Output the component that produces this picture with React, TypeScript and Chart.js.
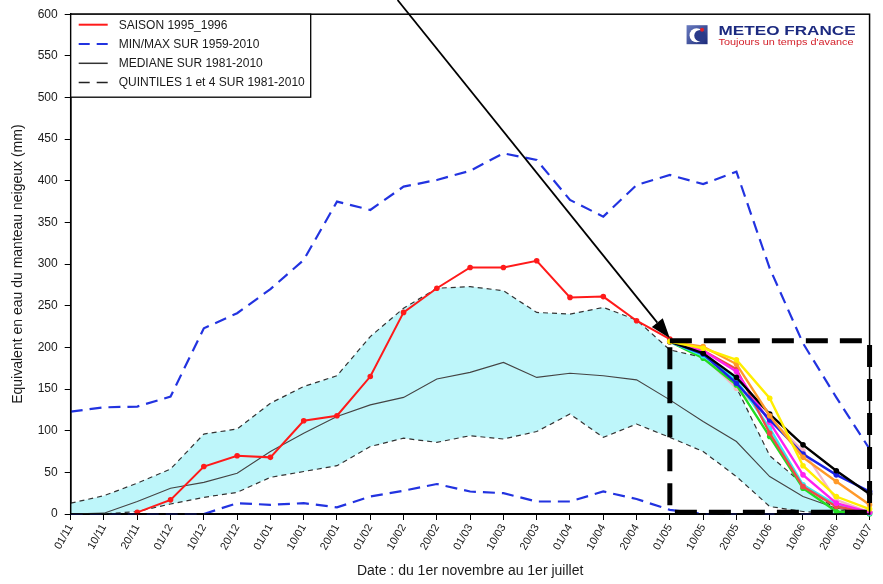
import React, { useEffect, useRef } from "react";
import { Chart, registerables } from "chart.js";

Chart.register(...registerables);

// Dates of the snow season, 1 November to 1 July
const dates = [
  "01/11", "10/11", "20/11", "01/12", "10/12", "20/12", "01/01", "10/01", "20/01",
  "01/02", "10/02", "20/02", "01/03", "10/03", "20/03", "01/04", "10/04", "20/04",
  "01/05", "10/05", "20/05", "01/06", "10/06", "20/06", "01/07",
];

// Snow water equivalent (mm)
const season = [null, null, 2, 17, 57, 70, 68, 112, 118, 165, 242, 271, 296, 296, 304, 260, 261, 232, 210];
const maxSeries = [123, 128, 129, 141, 223, 241, 270, 305, 375, 365, 393, 401, 412, 433, 425, 377, 357, 395, 407, 396, 411, 295, 205, 140, 78];
const minSeries = [0, 0, 0, 0, 0, 13, 11, 13, 8, 21, 28, 36, 27, 25, 15, 15, 27, 18, 5, 0, 0, 0, 0, 0, 0];
const medianSeries = [0, 1, 15, 31, 38, 49, 75, 97, 117, 131, 140, 162, 170, 182, 164, 169, 166, 161, 137, 111, 87, 45, 21, 7, 1];
const quintile4 = [13, 22, 37, 54, 96, 102, 133, 153, 166, 213, 247, 271, 273, 268, 242, 240, 248, 233, 197, 188, 152, 70, 36, 5, 0];
const quintile1 = [0, 0, 3, 12, 20, 26, 44, 51, 58, 81, 91, 86, 94, 90, 99, 120, 92, 108, 92, 75, 45, 9, 3, 0, 0];

// Scenario tails, 01/05 .. 01/07
const scenarioStart = "01/05";
const tailYellow = [207, 199, 185, 139, 58, 21, 6];
const tailOrange = [207, 201, 180, 118, 68, 39, 11];
const tailBlack = [207, 193, 164, 120, 83, 52, 24];
const tailBlue = [207, 192, 157, 113, 72, 47, 27];
const tailMagenta = [207, 196, 171, 110, 47, 13, 2];
const tailRed = [207, 196, 174, 97, 33, 9, 2];
const tailCyan = [207, 190, 161, 103, 35, 11, 1];
const tailGreen = [207, 187, 155, 93, 31, 3, 0];
const tailPink = [207, 189, 151, 115, 76, 17, 2];

// Highlighted window and arrow (category / value coordinates)
const boxFrom = "01/05";
const boxTo = "01/07";
const boxTop = 208;
const boxBottom = 2;
const arrowFrom = { index: 9.82, value: 617 };
const arrowTo = { index: 18, value: 211 };

const FONT = "'Liberation Sans', Arial, Helvetica, sans-serif";
const BLUE = "#2233e0";
const FILL = "rgb(190,246,250)";

function pad(tail: number[]): (number | null)[] {
  const s = dates.indexOf(scenarioStart);
  return dates.map((_, i) => {
    const k = i - s;
    return k >= 0 && k < tail.length ? tail[k] : null;
  });
}

const scenarios: [number[], string][] = [
  [tailYellow, "#ffee00"],
  [tailOrange, "#ff9a2a"],
  [tailBlack, "#000000"],
  [tailBlue, "#1a22e6"],
  [tailMagenta, "#ff22f0"],
  [tailRed, "#f04848"],
  [tailCyan, "#30eef0"],
  [tailGreen, "#22dd22"],
  [tailPink, "#f7b6c6"],
];

const legendEntries = [
  { label: "SAISON 1995_1996", color: "#ff1a1a", dash: [] as number[], width: 2 },
  { label: "MIN/MAX SUR 1959-2010", color: BLUE, dash: [11, 7], width: 2 },
  { label: "MEDIANE SUR 1981-2010", color: "#333333", dash: [] as number[], width: 1.5 },
  { label: "QUINTILES 1 et 4 SUR 1981-2010", color: "#222222", dash: [11, 7], width: 1.5 },
];

const overlay = {
  id: "overlay",
  afterDatasetsDraw(chart: any) {
    const { ctx, chartArea: a, scales } = chart;
    const x = scales.x;
    const y = scales.y;
    ctx.save();

    // plot frame
    ctx.setLineDash([]);
    ctx.strokeStyle = "#000";
    ctx.lineWidth = 1.5;
    ctx.strokeRect(a.left, a.top, a.right - a.left, a.bottom - a.top);

    // dashed window
    const bx0 = x.getPixelForValue(dates.indexOf(boxFrom));
    const bx1 = x.getPixelForValue(dates.indexOf(boxTo));
    const by0 = y.getPixelForValue(boxTop);
    const by1 = y.getPixelForValue(boxBottom);
    ctx.setLineDash([22, 12]);
    ctx.lineWidth = 5;
    ctx.strokeStyle = "#000";
    ctx.beginPath();
    ctx.moveTo(bx0, by0);
    ctx.lineTo(bx1, by0);
    ctx.lineTo(bx1, by1);
    ctx.lineTo(bx0, by1);
    ctx.closePath();
    ctx.stroke();

    // arrow
    const ax0 = x.getPixelForValue(arrowFrom.index);
    const ay0 = y.getPixelForValue(arrowFrom.value);
    const ax1 = x.getPixelForValue(arrowTo.index);
    const ay1 = y.getPixelForValue(arrowTo.value);
    const ang = Math.atan2(ay1 - ay0, ax1 - ax0);
    const headLen = 20;
    const headHalf = 7;
    ctx.setLineDash([]);
    ctx.lineWidth = 1.8;
    ctx.beginPath();
    ctx.moveTo(ax0, ay0);
    ctx.lineTo(ax1 - Math.cos(ang) * headLen, ay1 - Math.sin(ang) * headLen);
    ctx.stroke();
    ctx.fillStyle = "#000";
    ctx.beginPath();
    ctx.moveTo(ax1, ay1);
    ctx.lineTo(
      ax1 - Math.cos(ang) * headLen - Math.sin(ang) * headHalf,
      ay1 - Math.sin(ang) * headLen + Math.cos(ang) * headHalf
    );
    ctx.lineTo(
      ax1 - Math.cos(ang) * headLen + Math.sin(ang) * headHalf,
      ay1 - Math.sin(ang) * headLen - Math.cos(ang) * headHalf
    );
    ctx.closePath();
    ctx.fill();

    // legend box
    const lx = a.left;
    const ly = a.top;
    const lw = 240;
    const lh = 83;
    ctx.fillStyle = "#fff";
    ctx.fillRect(lx, ly, lw, lh);
    ctx.lineWidth = 1.3;
    ctx.strokeStyle = "#000";
    ctx.strokeRect(lx, ly, lw, lh);
    ctx.font = `12px ${FONT}`;
    ctx.textBaseline = "middle";
    ctx.textAlign = "left";
    legendEntries.forEach((e, i) => {
      const yy = ly + 10.5 + i * 19.3;
      ctx.setLineDash(e.dash);
      ctx.strokeStyle = e.color;
      ctx.lineWidth = e.width;
      ctx.beginPath();
      ctx.moveTo(lx + 8, yy);
      ctx.lineTo(lx + 37, yy);
      ctx.stroke();
      ctx.setLineDash([]);
      ctx.fillStyle = "#1a1a1a";
      ctx.fillText(e.label, lx + 48, yy + 0.5);
    });

    // logo
    const gx = a.right - 183;
    const gy = a.top + 11;
    const grad = ctx.createLinearGradient(gx, gy, gx + 21, gy + 19);
    grad.addColorStop(0, "#6a7cc0");
    grad.addColorStop(1, "#1b2a7a");
    ctx.fillStyle = grad;
    ctx.fillRect(gx, gy, 21, 19);
    ctx.fillStyle = "#ffffff";
    ctx.beginPath();
    ctx.arc(gx + 10, gy + 10, 7, 0, Math.PI * 2);
    ctx.fill();
    ctx.fillStyle = "#2a3a8a";
    ctx.beginPath();
    ctx.arc(gx + 13.5, gy + 10.5, 5.8, 0, Math.PI * 2);
    ctx.fill();
    ctx.fillStyle = "#e0202a";
    ctx.beginPath();
    ctx.arc(gx + 15.5, gy + 4.5, 2, 0, Math.PI * 2);
    ctx.fill();

    const drawFitted = (text: string, font: string, color: string, tx: number, ty: number, w: number) => {
      ctx.font = font;
      ctx.fillStyle = color;
      ctx.textBaseline = "alphabetic";
      const m = ctx.measureText(text).width;
      ctx.save();
      ctx.translate(tx, ty);
      ctx.scale(w / m, 1);
      ctx.fillText(text, 0, 0);
      ctx.restore();
    };
    drawFitted("METEO FRANCE", `bold 12.5px ${FONT}`, "#1c2a80", gx + 32, gy + 9.5, 137);
    drawFitted("Toujours un temps d'avance", `9px ${FONT}`, "#d4202a", gx + 32, gy + 19.5, 135);

    ctx.restore();
  },
};

export default function App() {
  const ref = useRef<HTMLCanvasElement | null>(null);

  useEffect(() => {
    document.body.style.margin = "0";
    const canvas = ref.current;
    if (!canvas) return;

    const scenarioSets = scenarios.map(([tail, color]) => ({
      label: "",
      data: pad(tail),
      borderColor: color,
      backgroundColor: color,
      borderWidth: 2.4,
      pointRadius: 2.8,
      pointBorderWidth: 0,
      fill: false,
      spanGaps: false,
      clip: 6,
    }));

    const base = scenarioSets.length;

    const chart = new Chart(canvas, {
      type: "line",
      data: {
        labels: dates,
        datasets: [
          ...scenarioSets,
          {
            label: legendEntries[0].label,
            data: season,
            borderColor: "#ff1a1a",
            backgroundColor: "#ff1a1a",
            borderWidth: 2,
            pointRadius: 2.8,
            pointBorderWidth: 0,
            fill: false,
            clip: 6,
          },
          {
            label: legendEntries[2].label,
            data: medianSeries,
            borderColor: "#444444",
            borderWidth: 1.1,
            pointRadius: 0,
            fill: false,
          },
          {
            label: legendEntries[3].label,
            data: quintile4,
            borderColor: "#333333",
            borderWidth: 1.2,
            borderDash: [5, 4],
            pointRadius: 0,
            backgroundColor: FILL,
            fill: { target: base + 3 },
          },
          {
            label: legendEntries[3].label,
            data: quintile1,
            borderColor: "#333333",
            borderWidth: 1.2,
            borderDash: [5, 4],
            pointRadius: 0,
            fill: false,
          },
          {
            label: legendEntries[1].label,
            data: maxSeries,
            borderColor: BLUE,
            borderWidth: 2.2,
            borderDash: [12, 7],
            pointRadius: 0,
            fill: false,
          },
          {
            label: legendEntries[1].label,
            data: minSeries,
            borderColor: BLUE,
            borderWidth: 2.2,
            borderDash: [12, 7],
            pointRadius: 0,
            fill: false,
            clip: 4,
          },
        ],
      },
      options: {
        animation: false,
        responsive: false,
        events: [],
        elements: { line: { tension: 0 } },
        layout: { padding: { top: 13.5, right: 12, left: 0, bottom: 0 } },
        plugins: {
          legend: { display: false },
          tooltip: { enabled: false },
          filler: { drawTime: "beforeDatasetsDraw" },
        },
        scales: {
          x: {
            offset: false,
            afterFit: (s: any) => {
              s.height = 70;
            },
            grid: { drawOnChartArea: false, drawTicks: true, tickLength: 6, color: "#000" },
            border: { display: true, color: "#000", width: 2 },
            ticks: {
              autoSkip: false,
              minRotation: 60,
              maxRotation: 60,
              padding: 2,
              color: "#1a1a1a",
              font: { family: FONT, size: 11 },
            },
            title: {
              display: true,
              text: "Date : du 1er novembre au 1er juillet",
              color: "#1a1a1a",
              font: { family: FONT, size: 14 },
              padding: { top: 0, bottom: 4 },
            },
          },
          y: {
            min: 0,
            max: 600,
            afterFit: (s: any) => {
              s.width = 70.7;
            },
            grid: { drawOnChartArea: false, drawTicks: true, tickLength: 6, color: "#000" },
            border: { display: true, color: "#000", width: 1.5 },
            ticks: {
              stepSize: 50,
              padding: 7,
              color: "#1a1a1a",
              font: { family: FONT, size: 12 },
            },
            title: {
              display: true,
              text: "Equivalent en eau du manteau neigeux (mm)",
              color: "#1a1a1a",
              font: { family: FONT, size: 14 },
              padding: { top: 10, bottom: 0 },
            },
          },
        },
      },
      plugins: [overlay],
    } as any);

    return () => chart.destroy();
  }, []);

  return (
    <div style={{ width: 883, height: 584, background: "#fff" }}>
      <canvas ref={ref} width={883} height={584} style={{ display: "block" }} />
    </div>
  );
}
